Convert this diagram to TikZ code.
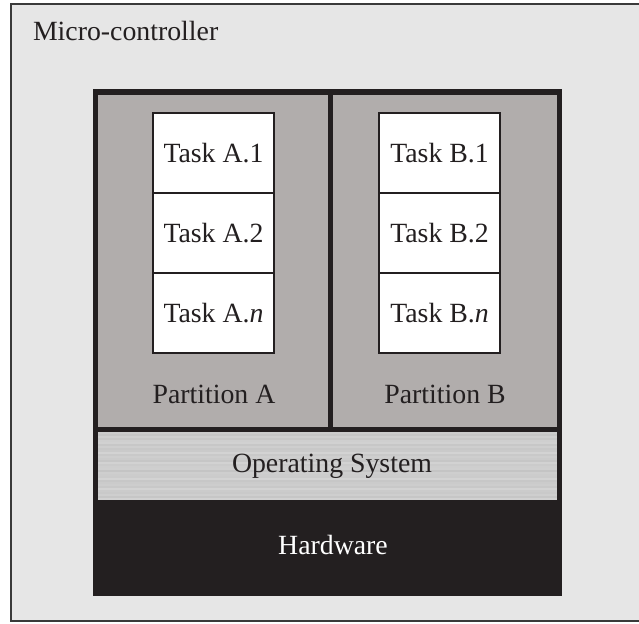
\documentclass[tikz,border=0pt]{standalone}
\usepackage{fontspec}
\setmainfont{Liberation Serif}
\definecolor{inkc}{HTML}{231F20}
\definecolor{bgc}{HTML}{E6E6E6}
\definecolor{framec}{HTML}{3A3A3A}
\definecolor{partc}{HTML}{B1ADAC}
\tikzset{
  lbl/.style={inner sep=0pt, outer sep=0pt, text=inkc, font=\fontsize{27.8}{30}\selectfont},
  partbox/.style={fill=partc, inner sep=0pt, outer sep=0pt},
  taskbox/.style={draw=inkc, fill=white, line width=2pt, inner sep=0pt, outer sep=0pt,
    minimum width=121pt, minimum height=80pt, text height=18pt, text depth=0pt,
    text=inkc, font=\fontsize{27.8}{30}\selectfont},
}
\begin{document}
\begin{tikzpicture}[x=1pt,y=-1pt]
\useasboundingbox (0,0) rectangle (639,623);
\begin{scope}
\clip (0,0) rectangle (639,623);
% outer micro-controller frame (runs off the right edge)
\draw[fill=bgc, draw=framec, line width=2.5pt] (11,4) rectangle (660,621);
\end{scope}
\node[lbl, anchor=base west] (mc) at (33,41) {Micro-controller};

% dark body holding partitions, OS and hardware
\fill[inkc] (93,89) rectangle (562,596);
\node[partbox, minimum width=230pt, minimum height=332pt] (pa) at (213,261) {};
\node[partbox, minimum width=224pt, minimum height=332pt] (pb) at (445,261) {};
\node[lbl, anchor=base] (pal) at (214,403) {Partition A};
\node[lbl, anchor=base] (pbl) at (445,403) {Partition B};

% operating system band with fine horizontal streaks
\node[inner sep=0pt, outer sep=0pt, minimum width=459pt, minimum height=67pt] (os) at (327.5,465.5) {};
\foreach \i in {0,...,33}{
  \pgfmathsetmacro\g{20+2*sin(\i*137.5)+1*sin(\i*61)}
  \fill[black!\g] (98,{432+2*\i}) rectangle (557,{434+2*\i});
}
\node[lbl, anchor=base] (osl) at (332,472) {Operating System};

% hardware
\node[inner sep=0pt, outer sep=0pt, minimum width=469pt, minimum height=97pt] (hw) at (327.5,547.5) {};
\node[lbl, anchor=base, text=white] (hwl) at (333,554) {Hardware};

% tasks
\node[taskbox] (a1) at (213.5,153) {Task A.1};
\node[taskbox] (a2) at (213.5,233) {Task A.2};
\node[taskbox] (an) at (213.5,313) {Task A.\textit{n}};
\node[taskbox] (b1) at (439.5,153) {Task B.1};
\node[taskbox] (b2) at (439.5,233) {Task B.2};
\node[taskbox] (bn) at (439.5,313) {Task B.\textit{n}};
\end{tikzpicture}
\end{document}
